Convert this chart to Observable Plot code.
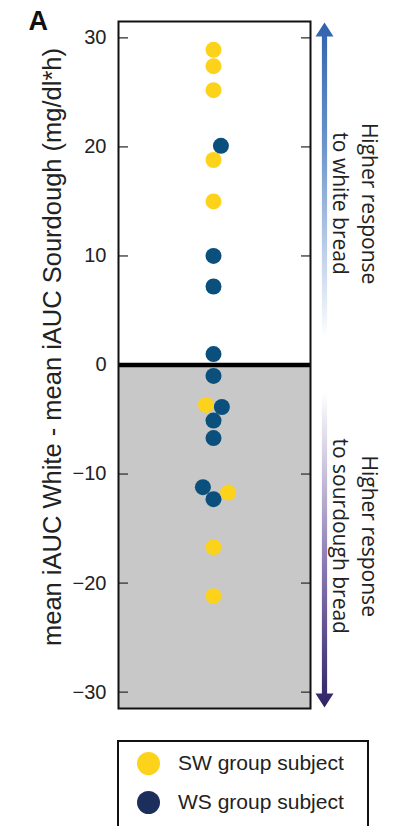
<!DOCTYPE html>
<html><head><meta charset="utf-8">
<script src="https://cdn.jsdelivr.net/npm/d3@7"></script>
<script src="https://cdn.jsdelivr.net/npm/@observablehq/plot@0.6"></script>
<style>
html,body{margin:0;padding:0;background:#fff;}
#wrap{position:relative;width:403px;height:826px;overflow:hidden;font-family:"Liberation Sans",Arial,sans-serif;}
#wrap svg{display:block;}
#legend{position:absolute;left:117px;top:740px;width:252px;height:100px;box-sizing:border-box;border:2px solid #111;background:#fff;}
.row{position:absolute;left:0;height:39px;display:flex;align-items:center;font-size:21px;color:#222;white-space:nowrap;}
.sw{width:23px;height:23px;border-radius:50%;margin-left:17.5px;margin-right:18.5px;flex:none;}
</style></head>
<body><div id="wrap"></div>
<script>
// ---- data ----
const swValues = [28.9, 27.4, 25.2, 18.8, 15.0, -3.66, -11.7, -16.7, -21.2];
const wsValues = [20.1, 10.0, 7.2, 1.0, -1.0, -3.85, -5.1, -6.7, -11.2, -12.3];
const groups = ["SW", "WS"];
const groupColors = ["#fcd21b", "#0b4f7c"];
const legendLabels = ["SW group subject", "WS group subject"];
const legendColors = ["#fcd21b", "#1b2e5c"];
const yTicks = [30, 20, 10, 0, -10, -20, -30];
const yDomain = [-31.5, 31.5];
const yLabel = "mean iAUC White - mean iAUC Sourdough (mg/dl*h)";
const upperNote = "Higher response\nto white bread";
const lowerNote = "Higher response\nto sourdough bread";
const panelLetter = "A";

const table = d3.sort([
  ...swValues.map(v => ({group: groups[0], value: v})),
  ...wsValues.map(v => ({group: groups[1], value: v}))
], d => d.value);

const W = 403, H = 722, mt = 21, mb = 14, ml = 118, mr = 93;
const half = (H - mt - mb) / 2;
const arrowShape = {
  draw(ctx, l) {
    const g = 27, hw = 2.6, hh = 9, hl = 14;
    ctx.moveTo(-hw, -g);
    ctx.lineTo(-hw, -(l - hl));
    ctx.lineTo(-hh, -(l - hl));
    ctx.lineTo(0, -l);
    ctx.lineTo(hh, -(l - hl));
    ctx.lineTo(hw, -(l - hl));
    ctx.lineTo(hw, -g);
    ctx.closePath();
  }
};

const chart = Plot.plot({
  width: W, height: H,
  marginTop: mt, marginBottom: mb, marginLeft: ml, marginRight: mr,
  style: {fontFamily: '"Liberation Sans", Arial, sans-serif', fontSize: "20px", color: "#222", background: "white", overflow: "visible"},
  y: {domain: yDomain, axis: null},
  color: {domain: groups, range: groupColors},
  marks: [
    Plot.rect([0], {y1: yDomain[0], y2: 0, fill: "#c8c8c8"}),
    Plot.axisY(yTicks, {anchor: "left", tickSize: 0, tickPadding: 12, fontSize: 20, fill: "#222", label: null}),
    Plot.axisY(yTicks, {anchor: "left", tickSize: 10, dx: 10, fill: "none", stroke: "#333", strokeWidth: 1.3, label: null}),
    Plot.axisY(yTicks, {anchor: "right", tickSize: 10, dx: -10, fill: "none", stroke: "#333", strokeWidth: 1.3, label: null}),
    Plot.ruleY([0], {stroke: "#000", strokeWidth: 4.5}),
    Plot.frame({stroke: "#111", strokeWidth: 2}),
    Plot.dot(table, Plot.dodgeX({anchor: "middle", padding: 0}, {y: "value", fill: "group", r: 8})),
    Plot.vector([0], {y: d => d, frameAnchor: "right", dx: 14, length: half - 1, rotate: 0, anchor: "start", shape: arrowShape, fill: "url(#gradUp)", stroke: "none"}),
    Plot.vector([0], {y: d => d, frameAnchor: "right", dx: 14, length: half - 1, rotate: 180, anchor: "start", shape: arrowShape, fill: "url(#gradDown)", stroke: "none"}),
    Plot.text([upperNote], {y: 14.8, frameAnchor: "right", dx: 46, rotate: 90, textAnchor: "middle", lineAnchor: "middle", fontSize: 21, lineHeight: 1.35, fontFamily: '"Open Sans", sans-serif', fill: "#222"}),
    Plot.text([lowerNote], {y: -15.7, frameAnchor: "right", dx: 46, rotate: 90, textAnchor: "middle", lineAnchor: "middle", fontSize: 21, lineHeight: 1.35, fontFamily: '"Open Sans", sans-serif', fill: "#222"}),
    Plot.text([yLabel], {frameAnchor: "left", dx: -66, dy: -18, rotate: -90, textAnchor: "middle", lineAnchor: "middle", fontSize: 25.5, fill: "#222"}),
    Plot.text([panelLetter], {frameAnchor: "top-left", dx: -90, dy: -11, lineAnchor: "top", textAnchor: "start", fontWeight: "bold", fontSize: 27, fill: "#111"})
  ]
});

// gradients for the arrows
const defs = d3.select(chart).insert("defs", ":first-child");
const gu = defs.append("linearGradient").attr("id", "gradUp").attr("x1", 0).attr("y1", 0).attr("x2", 0).attr("y2", 1);
gu.append("stop").attr("offset", 0).attr("stop-color", "#2f62ad");
gu.append("stop").attr("offset", 0.4).attr("stop-color", "#6f96cd");
gu.append("stop").attr("offset", 1).attr("stop-color", "#ffffff");
const gd = defs.append("linearGradient").attr("id", "gradDown").attr("x1", 0).attr("y1", 0).attr("x2", 0).attr("y2", 1);
gd.append("stop").attr("offset", 0).attr("stop-color", "#2f2366");
gd.append("stop").attr("offset", 0.45).attr("stop-color", "#8a79b2");
gd.append("stop").attr("offset", 1).attr("stop-color", "#ffffff");

// mirror the swarm around the frame centre so the dodge sides match the reference
const dotG = chart.querySelector('g[aria-label="dot"]');
if (dotG) {
  const cx = (ml + W - mr) / 2;
  dotG.setAttribute("transform", `translate(${2 * cx},0) scale(-1,1) ${dotG.getAttribute("transform") || ""}`);
}

const wrap = document.getElementById("wrap");
wrap.appendChild(chart);

const legend = document.createElement("div");
legend.id = "legend";
legendLabels.forEach((lab, i) => {
  const row = document.createElement("div");
  row.className = "row";
  row.style.top = (1.5 + i * 39) + "px";
  const sw = document.createElement("span");
  sw.className = "sw";
  sw.style.background = legendColors[i];
  const t = document.createElement("span");
  t.textContent = lab;
  row.appendChild(sw);
  row.appendChild(t);
  legend.appendChild(row);
});
wrap.appendChild(legend);
</script>
</body></html>
